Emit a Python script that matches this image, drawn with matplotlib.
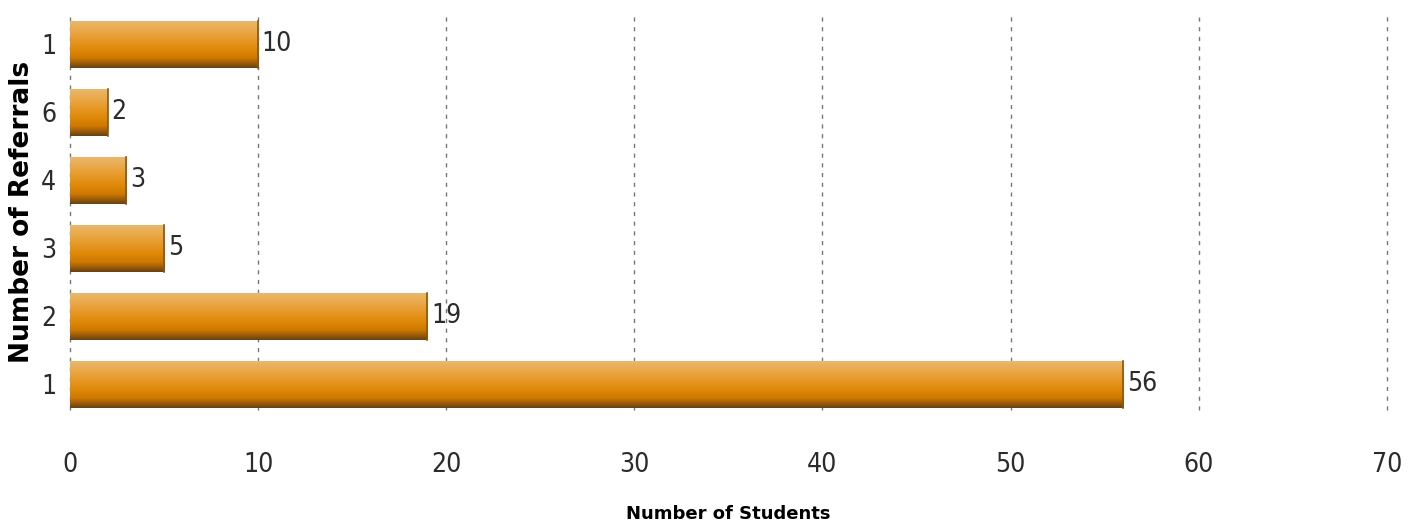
import numpy as np
import matplotlib
matplotlib.use("Agg")
import matplotlib.pyplot as plt
from matplotlib.colors import LinearSegmentedColormap

# referral counts, listed bottom to top
referrals = ["1", "2", "3", "4", "6", "1"]
students = [56, 19, 5, 3, 2, 10]
xticks = [0, 10, 20, 30, 40, 50, 60, 70]

num = dict(family="DejaVu Sans", stretch="condensed", fontsize=19, color="#2b2b2b")

fig = plt.figure(figsize=(14.08, 5.31), dpi=100, facecolor="white")
ax = fig.add_axes([0.0497, 0.228, 0.9353, 0.744])

# light top -> orange body -> dark bottom edge on each bar
shade = LinearSegmentedColormap.from_list("bar", [
    (0.0, "#e9b86c"), (0.3, "#e9a138"), (0.6, "#e08909"),
    (0.8, "#cc7700"), (0.9, "#9c5c08"), (1.0, "#6a4410")])
grad = np.linspace(0, 1, 64).reshape(-1, 1)

h = 0.69
pos = np.arange(len(students))
bars = ax.barh(pos, students, height=h, color="none", edgecolor="none", zorder=2)
for b, v in zip(bars, students):
    y0 = b.get_y()
    ax.imshow(grad, cmap=shade, aspect="auto", origin="upper",
              extent=[0, v, y0, y0 + h], zorder=2)
    ax.plot([v, v], [y0, y0 + h], color="#8a5810", lw=1.2, zorder=3)
    ax.text(v + 0.2, y0 + h / 2, str(v), va="center", ha="left", **num)

ax.set_xlim(0, 70)
ax.set_ylim(-0.38, 5.43)
ax.set_xticks(xticks)
ax.set_xticklabels([str(t) for t in xticks], **num)
ax.set_yticks(pos)
ax.set_yticklabels(referrals, **num)
ax.tick_params(length=0, pad=10)
ax.tick_params(axis="x", pad=30)

for t in xticks:
    ax.axvline(t, color="#777777", linestyle=(0, (3, 4)), linewidth=1.0,
               zorder=1, clip_on=False)
for s in ax.spines.values():
    s.set_visible(False)

ax.set_xlabel("Number of Students", fontsize=13, fontweight="bold", labelpad=20)
ax.set_ylabel("Number of Referrals", fontsize=19, fontweight="bold", labelpad=4)

fig.savefig("out.png", dpi=100, facecolor="white")
